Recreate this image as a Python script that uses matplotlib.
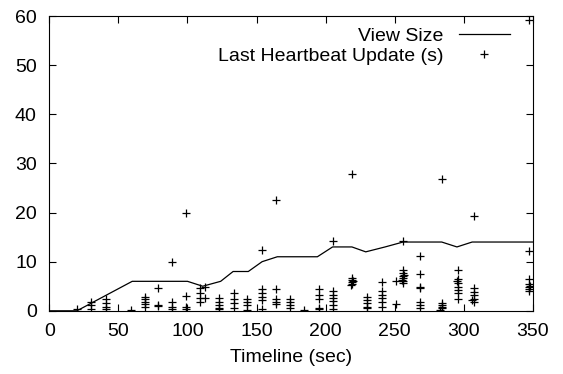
import matplotlib
matplotlib.use("Agg")
from matplotlib import pyplot as plt
from matplotlib import rcParams

rcParams["font.family"] = "Liberation Sans"
rcParams["font.size"] = 14

# view size over time
view_t = [0, 20, 60, 100, 111, 124, 133, 144, 154, 165, 194, 205, 219, 229, 243, 256, 284, 295, 306, 350]
view_size = [0, 0, 6, 6, 5, 6, 8, 8, 10, 11, 11, 13, 13, 12, 13, 14, 14, 13, 14, 14]

# last heartbeat update (s)
hb_t = [
    20,
    30, 30, 30,
    41, 41, 41, 41,
    59,
    69, 69, 69, 69, 69,
    79, 79, 79,
    89, 89, 89, 89,
    99, 99, 99, 99,
    109, 109, 109, 109, 113, 113,
    123, 123, 123, 123, 123,
    134, 134, 134, 134,
    143, 143, 143, 143,
    154, 154, 154, 154, 154, 154,
    164, 164, 164, 164, 164,
    174, 174, 174, 174,
    184,
    195, 195, 195, 195, 195,
    205, 205, 205, 205, 205, 205, 205,
    219, 219, 219, 219, 219, 218, 220,
    230, 230, 230, 230, 230,
    241, 241, 241, 241, 241, 241,
    251, 251,
    256, 256, 256, 256, 256, 256, 256, 257, 255,
    268, 268, 268, 268, 268, 268, 268,
    284, 284, 284, 284, 284, 283,
    296, 296, 296, 296, 296, 296, 296, 295,
    307, 307, 307, 307, 307, 307, 306,
    347, 347, 347, 347, 347, 347, 347, 348,
]
hb_val = [
    0.3,
    1.8, 1.1, 0.3,
    2.5, 1.5, 0.8, 0.4,
    0.1,
    2.85, 2.3, 1.8, 1.3, 0.8,
    4.6, 1.2, 1.0,
    10.0, 1.8, 0.8, 0.4,
    20.0, 3.05, 0.8, 0.35,
    4.6, 3.7, 2.65, 1.7, 4.8, 2.65,
    2.65, 1.8, 1.2, 0.5, 0.3,
    3.7, 2.5, 1.5, 0.6,
    2.5, 1.8, 1.2, 0.1,
    12.4, 4.4, 3.7, 2.85, 2.2, 0.35,
    22.5, 4.4, 2.5, 1.8, 1.3,
    2.5, 1.8, 1.2, 0.5,
    0.1,
    4.4, 3.3, 2.5, 0.6, 0.3,
    14.2, 4.0, 3.3, 2.65, 2.0, 1.2, 0.3,
    27.8, 6.7, 6.25, 5.8, 5.4, 5.2, 6.0,
    2.85, 2.2, 1.5, 0.8, 0.5,
    5.9, 4.0, 3.3, 2.65, 1.8, 0.8,
    6.1, 1.3,
    14.2, 8.4, 7.6, 7.1, 6.6, 6.05, 5.6, 7.3, 6.3,
    11.1, 7.4, 4.9, 4.6, 1.8, 1.2, 0.6,
    26.8, 1.5, 1.2, 0.8, 0.5, 0.1,
    8.4, 6.45, 5.6, 4.9, 4.25, 3.6, 2.5, 6.0,
    19.4, 4.6, 3.9, 3.2, 2.5, 1.8, 2.2,
    59.2, 12.2, 6.45, 5.4, 4.9, 4.5, 4.0, 5.0,
]

fig = plt.figure(figsize=(5.63, 3.74), dpi=100)
ax = fig.add_axes([0.0876, 0.169, 0.859, 0.788])

ax.plot(view_t, view_size, color="k", linewidth=0.9, label="View Size")
ax.plot(hb_t, hb_val, "+", color="k", markersize=6, markeredgewidth=0.9,
        linestyle="none", label="Last Heartbeat Update (s)")

ax.set_xlim(0, 350)
ax.set_ylim(0, 60)
ax.set_xticks(range(0, 351, 50))
ax.set_yticks(range(0, 61, 10))
ax.tick_params(direction="in", top=True, right=True, length=5, width=0.8, pad=9)
ax.set_xlabel("Timeline (sec)", labelpad=6)

leg = ax.legend(loc="upper right", bbox_to_anchor=(0.969, 0.989), frameon=False,
                markerfirst=False, handlelength=2.65, handletextpad=0.8,
                labelspacing=0.15, borderaxespad=0)
# right-align legend rows like gnuplot
for col in leg._legend_handle_box.get_children():
    col.align = "right"

fig.savefig("out.png", dpi=100)
